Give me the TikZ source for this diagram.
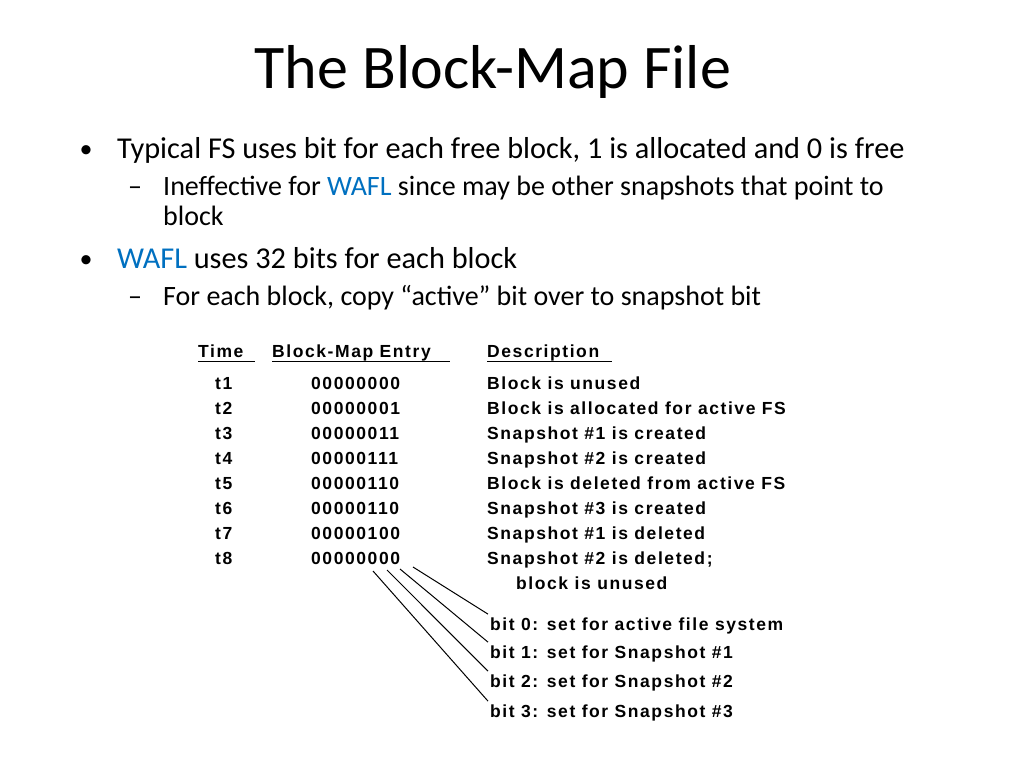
\documentclass[tikz,border=0pt]{standalone}
\usepackage{fontspec}
\setmainfont{Carlito}
\newfontfamily\tabfont[LetterSpace=9]{Liberation Sans Bold}
\usetikzlibrary{positioning}
\definecolor{wafl}{RGB}{0,112,192}

\tikzset{
  txt/.style={anchor=base west, inner sep=0pt},
  tab/.style={anchor=base west, inner sep=0pt, font=\tabfont\fontsize{17.5}{19}\selectfont},
  bul/.style={anchor=base, inner sep=0pt, font=\fontsize{26}{30}\selectfont}
}

\begin{document}
\begin{tikzpicture}[x=1pt,y=-1pt]
\useasboundingbox (0,0) rectangle (1024,768);

\node[anchor=base, inner sep=0pt, font=\fontsize{62}{70}\selectfont] (title) at (493,88) {The Block-Map File};

% bullets
\node[bul] (b1) at (86,157) {\textbullet};
\node[txt, font=\fontsize{30.3}{36}\selectfont] (l1) at (117,158) {Typical FS uses bit for each free block, 1 is allocated and 0 is free};
\node[txt, font=\fontsize{28}{30}\selectfont] (d1) at (128,195) {\textendash};
\node[txt, font=\fontsize{28}{30}\selectfont] (l2) at (163,195) {Ineffective for \textcolor{wafl}{WAFL} since may be other snapshots that point to};
\node[txt, font=\fontsize{28}{30}\selectfont] (l3) at (163,225) {block};
\node[bul] (b2) at (86,267) {\textbullet};
\node[txt, font=\fontsize{30.3}{36}\selectfont] (l4) at (117,268) {\textcolor{wafl}{WAFL} uses 32 bits for each block};
\node[txt, font=\fontsize{28}{30}\selectfont] (d2) at (128,305) {\textendash};
\node[txt, font=\fontsize{28}{30}\selectfont] (l5) at (163,305) {For each block, copy “active” bit over to snapshot bit};

% table header
\node[tab] (hTime) at (198,357) {Time};
\node[tab] (hEntry) at (272,357) {Block-Map Entry};
\node[tab] (hDesc) at (487,357) {Description};
\draw[line width=1pt] (hTime.base west) ++(0,4) -- ++(57,0);
\draw[line width=1pt] (hEntry.base west) ++(0,4) -- ++(178,0);
\draw[line width=1pt] (hDesc.base west) ++(0,4) -- ++(125,0);

% rows
\foreach \t/\e/\d [count=\i] in {
  t1/00000000/Block is unused,
  t2/00000001/Block is allocated for active FS,
  t3/00000011/Snapshot \#1 is created,
  t4/00000111/Snapshot \#2 is created,
  t5/00000110/Block is deleted from active FS,
  t6/00000110/Snapshot \#3 is created,
  t7/00000100/Snapshot \#1 is deleted,
  t8/00000000/Snapshot \#2 is deleted;}
{
  \node[tab] (t\i) at (215,364+25*\i) {\t};
  \node[tab] (e\i) at (311,364+25*\i) {\e};
  \node[tab] (d\i) at (487,364+25*\i) {\d};
}
\node[tab] (d9) at (516,589) {block is unused};

% bit labels
\node[tab] (bit0) at (490,630) {bit 0: set for active file system};
\node[tab] (bit1) at (490,658) {bit 1: set for Snapshot \#1};
\node[tab] (bit2) at (490,687) {bit 2: set for Snapshot \#2};
\node[tab] (bit3) at (490,717) {bit 3: set for Snapshot \#3};

\coordinate (s0) at (413,567);
\coordinate (s1) at (400,569);
\coordinate (s2) at (387,570);
\coordinate (s3) at (373,571);
\foreach \i in {0,1,2,3}
  \draw[line width=1pt] (s\i) -- ([xshift=-2pt,yshift=3pt]bit\i.north west);
\end{tikzpicture}
\end{document}
